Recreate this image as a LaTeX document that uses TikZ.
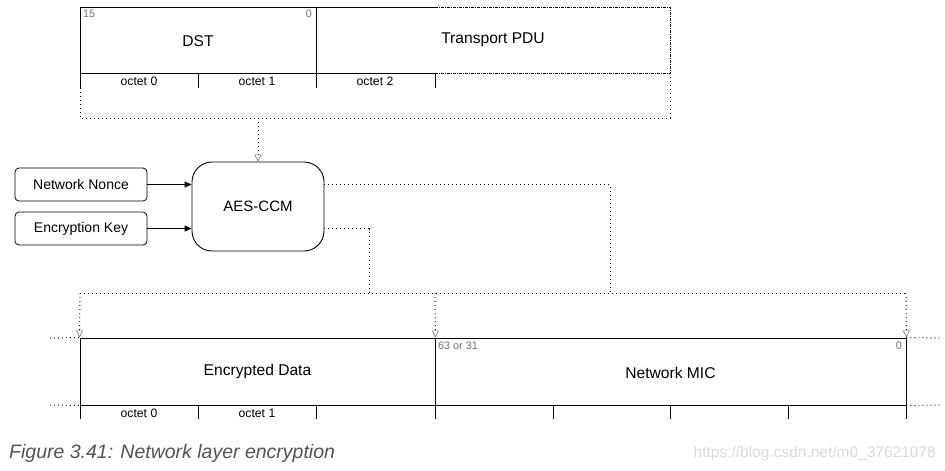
\documentclass[tikz,border=0pt]{standalone}
\usepackage{fontspec}
\setmainfont{Liberation Sans}
\usetikzlibrary{arrows.meta}
\begin{document}
\begin{tikzpicture}[x=1pt,y=-1pt,
  fld/.style={font=\fontsize{15.6}{18}\selectfont, inner sep=0pt},
  oct/.style={font=\fontsize{12.2}{14}\selectfont, inner sep=0pt},
  bitn/.style={font=\fontsize{10.8}{12}\selectfont, text=black!55, inner sep=0pt},
  dotl/.style={line width=0.9pt, dash pattern=on 1pt off 3pt},
  dashdotl/.style={line width=0.9pt, dash pattern=on 3pt off 1pt on 1pt off 1pt},
  sol/.style={line width=0.9pt},
  opentip/.style={-{Triangle[open,length=7pt,width=7pt,line width=0.6pt,color=black!55]}},
  filltip/.style={-{Triangle[length=7pt,width=6pt]}},
  inbox/.style={draw, line width=0.8pt, rounded corners=4pt, minimum width=132pt, minimum height=33pt, font=\fontsize{14}{16}\selectfont, inner sep=0pt}
]
\useasboundingbox (0,0) rectangle (945,471);

% ---- top packet ----
\draw[sol] (435,7) -- (80,7) -- (80,88);
\draw[dashdotl] (435,7) -- (670,7) -- (670,73);
\draw[dotl] (670,73) -- (670,118) -- (80,118) -- (80,88);
\draw[sol] (80,73) -- (435,73);
\draw[dashdotl] (435,73) -- (670,73);
\draw[sol] (316,7) -- (316,88);
\draw[sol] (198,73) -- (198,88);
\draw[sol] (435,73) -- (435,88);
\node[bitn, anchor=north west] (b15) at (83,10) {15};
\node[bitn, anchor=north east] (b0a) at (312,10) {0};
\node[fld] (dst) at (198,41) {DST};
\node[fld] (tpdu) at (493,40) {Transport PDU};
\node[oct] (o0) at (139,81) {octet 0};
\node[oct] (o1) at (257,81) {octet 1};
\node[oct] (o2) at (375,81) {octet 2};
\coordinate (tap) at (258,118);

% ---- AES-CCM ----
\node[draw, line width=0.9pt, rounded corners=20pt, minimum width=132pt, minimum height=89pt, font=\fontsize{15}{17}\selectfont] (aes) at (258,206.5) {AES-CCM};
\node[inbox] (nonce) at (81,184.5) {Network Nonce};
\node[inbox] (key) at (81,228.5) {Encryption Key};
\draw[sol, filltip] (nonce.east) -- (nonce.east -| aes.west);
\draw[sol, filltip] (key.east) -- (key.east -| aes.west);
\draw[dotl, opentip] (tap) -- (aes.north);

% ---- bus ----
\coordinate (busL) at (80,293);
\coordinate (busM) at (435,293);
\coordinate (busR) at (906,293);
\coordinate (busA) at (369,293);
\coordinate (busB) at (610,293);
\draw[dotl] (aes.east |- nonce.east) -| (busB);
\draw[dotl] (aes.east |- key.east) -| (busA);
\draw[dotl] (busL) -- (busR);

% ---- bottom packet ----
\node[draw, sol, minimum width=355pt, minimum height=67pt, inner sep=0pt, font=\fontsize{15.6}{18}\selectfont] (enc) at (257.5,371.5) {Encrypted Data};
\node[draw, sol, minimum width=471pt, minimum height=67pt, inner sep=0pt] (mic) at (670.5,371.5) {};
\node[fld] (mictxt) at (670.5,373) {Network MIC};
\draw[dotl, opentip] (busL) -- (enc.north west);
\draw[dotl, opentip] (busM) -- (enc.north east);
\draw[dotl, opentip] (busR) -- (mic.north east);
\foreach \x in {80,198,316,435,553,670,788,906} \draw[sol] (\x,405) -- (\x,419);
\draw[dotl] (50,338) -- (enc.north west);
\draw[dotl] (50,405) -- (enc.south west);
\draw[dotl] (mic.north east) -- (940,338);
\draw[dotl] (mic.south east) -- (940,405);
\node[bitn, anchor=north west] (b63) at (438,342) {63 or 31};
\node[bitn, anchor=north east] (b0b) at (902,342) {0};
\node[oct] (p0) at (139,413) {octet 0};
\node[oct] (p1) at (257,413) {octet 1};

% ---- caption ----
\node[anchor=west, inner sep=0pt, text=black!68, font=\itshape\fontsize{19.5}{22}\selectfont] (cap) at (9,453) {Figure 3.41: Network layer encryption};
\node[anchor=east, inner sep=0pt, text=black!15, font=\fontsize{15.5}{18}\selectfont] (wm) at (936,453) {https://blog.csdn.net/m0\_37621078};
\end{tikzpicture}
\end{document}
